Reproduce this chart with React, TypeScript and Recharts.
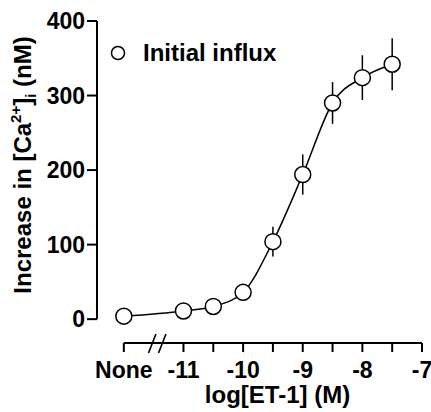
import React from 'react';
import { LineChart, Line, XAxis, YAxis, ErrorBar, ReferenceLine, ReferenceDot, Legend, Label } from 'recharts';

// log[ET-1] (M); -12 stands for the "None" control
const doses = [-12, -11, -10.5, -10, -9.5, -9, -8.5, -8, -7.5];
const influx = [4, 11, 17, 36, 104, 194, 290, 324, 342];
const influxSem = [2, 3, 3, 5, 20, 27, 28, 30, 35];

const xTicks = [-12, -11, -10.5, -10, -9.5, -9, -8.5, -8, -7.5, -7];
const yTicks = [0, 100, 200, 300, 400];
const X_MIN = -12.45;
const X_MAX = -7;
const Y_MIN = -32;
const Y_MAX = 400;
const BREAK_AT = -11.44;

const data = doses.map((d, i) => ({ dose: d, value: influx[i], err: influxSem[i] }));

const FONT = '"Liberation Sans", Arial, sans-serif';

const tickFmt = (v: number) => (v === -12 ? 'None' : Number.isInteger(v) ? String(v) : '');

const AxisBreak = (props: any) => {
    const { cx, cy } = props;
    if (cx == null || cy == null) return null;
    return (
        <g stroke="#000" strokeWidth={1.6}>
            <line x1={cx - 8.7} y1={cy + 10} x2={cx - 1.3} y2={cy - 9} />
            <line x1={cx + 1.3} y1={cy + 10} x2={cx + 8.7} y2={cy - 9} />
        </g>
    );
};

const YTitle = (props: any) => {
    const { viewBox } = props;
    const x = viewBox.x + 31;
    const y = viewBox.y + viewBox.height / 2 - 17;
    return (
        <text
            x={x}
            y={y}
            transform={`rotate(-90 ${x} ${y})`}
            textAnchor="middle"
            fontFamily={FONT}
            fontWeight="bold"
            fontSize={24}
            fill="#000"
        >
            Increase in [Ca
            <tspan fontSize={15} dy={-10}>2+</tspan>
            <tspan dy={10}>]</tspan>
            <tspan fontSize={15} dy={5}>i</tspan>
            <tspan dy={-5}> (nM)</tspan>
        </text>
    );
};

const XTitle = (props: any) => {
    const { viewBox } = props;
    return (
        <text
            x={viewBox.x + viewBox.width / 2 + 18}
            y={viewBox.y + 60}
            textAnchor="middle"
            fontFamily={FONT}
            fontWeight="bold"
            fontSize={24}
            fill="#000"
        >
            log[ET-1] (M)
        </text>
    );
};

const LegendBox = (props: any) => {
    const item = props.payload && props.payload[0];
    return (
        <div style={{ display: 'flex', alignItems: 'center' }}>
            <svg width={16} height={16}>
                <circle cx={8} cy={8} r={6.5} fill="#fff" stroke="#000" strokeWidth={1.5} />
            </svg>
            <span style={{ marginLeft: 17, fontFamily: FONT, fontWeight: 'bold', fontSize: 24, color: '#000' }}>
                {item ? item.value : ''}
            </span>
        </div>
    );
};

const tickStyle = { fontFamily: FONT, fontWeight: 'bold', fontSize: 23, fill: '#000' };

export default function App() {
    return (
        <div style={{ position: 'absolute', left: 0, top: 0, background: '#fff' }}>
            <LineChart width={431} height={412} data={data} margin={{ top: 21, right: 9, bottom: 0, left: 0 }}>
                <XAxis
                    dataKey="dose"
                    type="number"
                    domain={[X_MIN, X_MAX]}
                    allowDataOverflow
                    ticks={xTicks}
                    tickFormatter={tickFmt}
                    axisLine={false}
                    tickLine={{ stroke: '#000', strokeWidth: 2 }}
                    tickSize={9}
                    tickMargin={10}
                    tick={tickStyle}
                    height={69}
                    interval={0}
                >
                    <Label content={<XTitle />} />
                </XAxis>
                <YAxis
                    type="number"
                    domain={[Y_MIN, Y_MAX]}
                    allowDataOverflow
                    ticks={yTicks}
                    axisLine={false}
                    tickLine={{ stroke: '#000', strokeWidth: 2 }}
                    tickSize={10}
                    tick={tickStyle}
                    width={97}
                    interval={0}
                >
                    <Label content={<YTitle />} />
                </YAxis>
                <ReferenceLine
                    segment={[{ x: X_MIN, y: 0 }, { x: X_MIN, y: Y_MAX }]}
                    stroke="#000"
                    strokeWidth={2}
                    ifOverflow="visible"
                />
                <ReferenceLine
                    segment={[{ x: -12, y: Y_MIN }, { x: X_MAX, y: Y_MIN }]}
                    stroke="#000"
                    strokeWidth={2}
                    ifOverflow="visible"
                />
                <ReferenceDot x={BREAK_AT} y={Y_MIN} ifOverflow="visible" shape={<AxisBreak />} />
                <Legend
                    layout="vertical"
                    verticalAlign="middle"
                    align="center"
                    content={<LegendBox />}
                    wrapperStyle={{ top: 39, left: 110, width: 'auto' }}
                />
                <Line
                    name="Initial influx"
                    dataKey="value"
                    type="monotone"
                    stroke="#000"
                    strokeWidth={1.5}
                    dot={{ r: 8, fill: '#fff', stroke: '#000', strokeWidth: 1.5 }}
                    activeDot={false}
                    isAnimationActive={false}
                >
                    <ErrorBar dataKey="err" direction="y" width={0} stroke="#000" strokeWidth={1.5} />
                </Line>
            </LineChart>
        </div>
    );
}
